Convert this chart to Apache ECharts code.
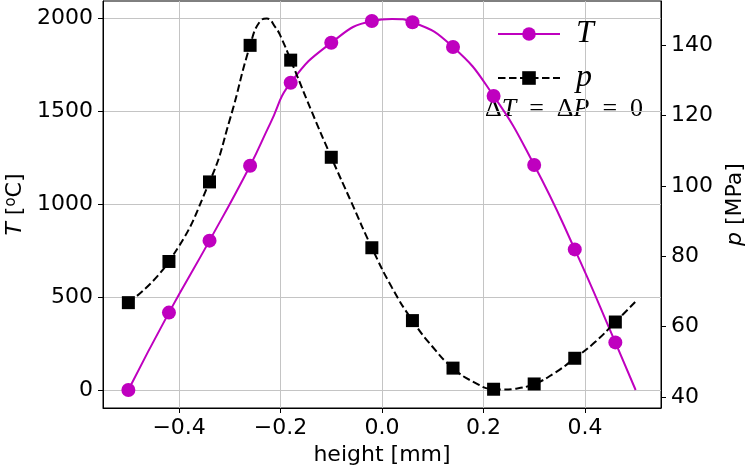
<!DOCTYPE html>
<html>
<head>
<meta charset="utf-8">
<script src="https://cdn.jsdelivr.net/npm/echarts@6/dist/echarts.min.js"></script>
<style>html,body{margin:0;padding:0;background:#fff}#c{width:747px;height:471px}</style>
</head>
<body>
<div id="c"></div>
<script>
// Marker positions (height in mm)
const markerX = [-0.5, -0.42, -0.34, -0.26, -0.18, -0.10, -0.02, 0.06, 0.14, 0.22, 0.30, 0.38, 0.46];
const markerT = [0, 416, 803, 1206, 1652, 1867, 1984, 1977, 1844, 1581, 1210, 756, 256];
const markerP = [66.8, 78.5, 101.1, 139.9, 135.7, 108.1, 82.4, 61.7, 48.2, 42.2, 43.7, 51.0, 61.3];
// Extra curve samples (between markers)
const curveTX = [-0.22, 0.02, 0.50];
const curveTY = [1435, 1995, 0];
const curvePX = [-0.30, -0.24, -0.227, -0.21, -0.20, -0.14, -0.06, 0.02, 0.10, 0.18, 0.24, 0.26, 0.34, 0.42, 0.50];
const curvePY = [118.8, 146.8, 147.5, 145.0, 142.5, 121.6, 95.2, 71.0, 54.2, 44.3, 42.1, 42.3, 46.8, 55.6, 67.1];
// Tick values
const xTicks = [-0.4, -0.2, 0.0, 0.2, 0.4];
const tTicks = [0, 500, 1000, 1500, 2000];
const pTicks = [40, 60, 80, 100, 120, 140];

function merge(xa, ya, xb, yb) {
  const pts = xa.map((x, i) => [x, ya[i]]).concat(xb.map((x, i) => [x, yb[i]]));
  pts.sort((a, b) => a[0] - b[0]);
  return pts;
}
const tCurve = merge(markerX, markerT, curveTX, curveTY);
const pCurve = merge(markerX, markerP, curvePX, curvePY);

const MAG = '#BF00BF';
const tickFont = { fontFamily: 'DejaVu Sans', fontSize: 22, color: '#000' };
const gridLine = { show: true, lineStyle: { color: '#c4c4c4', width: 1 } };

const chart = echarts.init(document.getElementById('c'), null, { renderer: 'canvas' });
chart.setOption({
  animation: false,
  grid: { left: 103, right: 86, top: 1, bottom: 63, containLabel: false, outerBoundsMode: 'none', show: true, borderColor: '#000', borderWidth: 1, backgroundColor: 'transparent' },
  legend: [
    { data: ['T'], left: 492, top: 13, itemWidth: 62, itemHeight: 17,
      textStyle: { fontFamily: 'Liberation Serif', fontStyle: 'italic', fontSize: 32, color: '#000', padding: [0, 0, 0, 11] } },
    { data: ['p'], left: 492, top: 57, itemWidth: 62, itemHeight: 17,
      textStyle: { fontFamily: 'Liberation Serif', fontStyle: 'italic', fontSize: 32, color: '#000', padding: [0, 0, 0, 11] } }
  ],
  graphic: [{
    type: 'text', left: 485, top: 96,
    style: {
      text: '{u|Δ}{i|T}{u|\u2002=\u2002Δ}{i|P}{u|\u2002=\u20020}',
      rich: {
        u: { fontFamily: 'Liberation Serif', fontSize: 26, fill: '#000' },
        i: { fontFamily: 'Liberation Serif', fontStyle: 'italic', fontSize: 26, fill: '#000' }
      }
    }
  }],
  xAxis: {
    type: 'value', min: -0.55, max: 0.55,
    axisLine: { show: true, onZero: false, lineStyle: { color: '#000', width: 1 } },
    axisTick: { show: true, length: 5, inside: false, customValues: xTicks, lineStyle: { color: '#000' } },
    axisLabel: Object.assign({ margin: 9, customValues: xTicks, formatter: v => (v < -1e-9 ? '\u2212' : '') + Math.abs(v).toFixed(1) }, tickFont),
    splitLine: gridLine,
    name: 'height [mm]', nameLocation: 'middle', nameGap: 35,
    nameTextStyle: { fontFamily: 'DejaVu Sans', fontSize: 22, color: '#000' }
  },
  yAxis: [
    {
      type: 'value', min: -96.8, max: 2091.4, position: 'left',
      axisLine: { show: true, onZero: false, lineStyle: { color: '#000', width: 1 } },
      axisTick: { show: true, length: 5, inside: false, customValues: tTicks, lineStyle: { color: '#000' } },
      axisLabel: Object.assign({ margin: 10, customValues: tTicks, formatter: v => String(Math.round(v)) }, tickFont),
      splitLine: gridLine,
      name: '{i|T} [{s|o}C]', nameLocation: 'middle', nameGap: 76,
      nameTextStyle: {
        fontFamily: 'DejaVu Sans', fontSize: 22, color: '#000',
        rich: {
          i: { fontFamily: 'DejaVu Sans', fontStyle: 'italic', fontSize: 22, color: '#000' },
          s: { fontFamily: 'DejaVu Sans', fontSize: 15, color: '#000', verticalAlign: 'top', padding: [0, 0, 8, 0] }
        }
      }
    },
    {
      type: 'value', min: 36.87, max: 152.5, position: 'right',
      axisLine: { show: true, onZero: false, lineStyle: { color: '#000', width: 1 } },
      axisTick: { show: true, length: 5, inside: false, customValues: pTicks, lineStyle: { color: '#000' } },
      axisLabel: Object.assign({ margin: 10, customValues: pTicks, formatter: v => String(Math.round(v)) }, tickFont),
      splitLine: { show: false },
      name: '{i|p} [MPa]', nameLocation: 'middle', nameGap: 62,
      nameTextStyle: {
        fontFamily: 'DejaVu Sans', fontSize: 22, color: '#000',
        rich: { i: { fontFamily: 'DejaVu Sans', fontStyle: 'italic', fontSize: 22, color: '#000' } }
      }
    }
  ],
  series: [
    { name: 'T', type: 'line', yAxisIndex: 0, data: tCurve, smooth: 0.5, showSymbol: false, symbol: 'circle',
      lineStyle: { color: MAG, width: 2 }, itemStyle: { color: MAG }, z: 3 },
    { name: 'T', type: 'scatter', yAxisIndex: 0, data: markerX.map((x, i) => [x, markerT[i]]), symbol: 'circle', symbolSize: 14,
      itemStyle: { color: MAG, opacity: 1 }, z: 4 },
    { name: 'p', type: 'line', yAxisIndex: 1, data: pCurve, smooth: 0.5, showSymbol: false, symbol: 'rect',
      lineStyle: { color: '#000', width: 2, type: [7.5, 3.5] }, itemStyle: { color: '#000' }, z: 3 },
    { name: 'p', type: 'scatter', yAxisIndex: 1, data: markerX.map((x, i) => [x, markerP[i]]), symbol: 'rect', symbolSize: 13,
      itemStyle: { color: '#000', opacity: 1 }, z: 4 }
  ]
});
</script>
</body>
</html>
